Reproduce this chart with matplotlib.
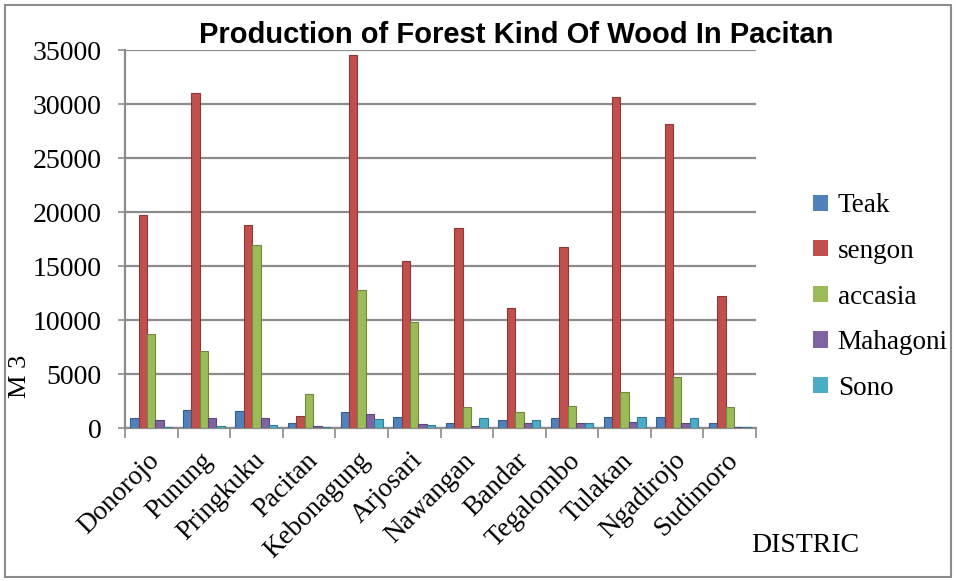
import matplotlib
matplotlib.use("Agg")
import matplotlib.pyplot as plt
import matplotlib.transforms as mtransforms
from matplotlib.patches import Rectangle
import numpy as np

districts = ["Donorojo", "Punung", "Pringkuku", "Pacitan", "Kebonagung", "Arjosari",
             "Nawangan", "Bandar", "Tegalombo", "Tulakan", "Ngadirojo", "Sudimoro"]
teak     = [950, 1700, 1550, 500, 1500, 1000, 500, 700, 900, 1000, 1000, 500]
sengon   = [19700, 31000, 18800, 1100, 34500, 15500, 18500, 11100, 16750, 30650, 28150, 12200]
accasia  = [8700, 7100, 16900, 3150, 12800, 9800, 1900, 1500, 2000, 3300, 4700, 1900]
mahagoni = [700, 900, 950, 200, 1300, 400, 200, 500, 450, 600, 500, 100]
sono     = [100, 200, 300, 50, 800, 300, 950, 750, 500, 1050, 950, 50]

series_names = ["Teak", "sengon", "accasia", "Mahagoni", "Sono"]
series_vals = [teak, sengon, accasia, mahagoni, sono]
colors = ["#4F81BD", "#C0504D", "#9BBB59", "#8064A2", "#4BACC6"]
edges = ["#385D8A", "#8C3836", "#71893F", "#5C4776", "#357D91"]
yticks = [0, 5000, 10000, 15000, 20000, 25000, 30000, 35000]

W, H = 956, 581
fig = plt.figure(figsize=(W / 100, H / 100), dpi=100)
fig.patch.set_facecolor("white")
fig.patches.append(Rectangle((5 / W, 4 / H), (W - 10) / W, (H - 9) / H, transform=fig.transFigure,
                             fill=False, edgecolor="#8c8c8c", linewidth=1.5))

ax = fig.add_axes([125 / W, 1 - 428 / H, (756 - 125) / W, (428 - 50) / H])
x = np.arange(len(districts))
bw = 0.16
for i, (name, vals) in enumerate(zip(series_names, series_vals)):
    ax.bar(x + (i - 2) * bw, vals, width=bw, color=colors[i], edgecolor=edges[i],
           linewidth=0.8, label=name, zorder=3)

ax.set_xlim(-0.5, len(districts) - 0.5)
ax.set_ylim(0, 35000)
ax.set_yticks(yticks)
ax.set_yticklabels([str(v) for v in yticks], fontfamily="Liberation Serif", fontsize=20)
ax.yaxis.grid(True, color="#8c8c8c", linewidth=1.6, zorder=0)
ax.set_axisbelow(True)
for s in ["top", "right"]:
    ax.spines[s].set_visible(False)
for s in ["left", "bottom"]:
    ax.spines[s].set_color("#8c8c8c")
    ax.spines[s].set_linewidth(1.6)
ax.tick_params(axis="y", length=5, color="#8c8c8c", width=1.2, pad=12)

ax.set_xticks(x)
ax.set_xticks(np.arange(-0.5, len(districts), 1), minor=True)
ax.tick_params(axis="x", which="major", length=0)
ax.tick_params(axis="x", which="minor", length=7, color="#8c8c8c", width=1.2)
offset = mtransforms.ScaledTranslation(-4 / 100, -15 / 100, fig.dpi_scale_trans)
labels = ax.set_xticklabels(districts, rotation=45, ha="right", va="top",
                            rotation_mode="anchor", fontfamily="Liberation Serif", fontsize=19.5)
for lab in labels:
    lab.set_transform(lab.get_transform() + offset)

fig.text(516 / W, 1 - 35 / H, "Production of Forest Kind Of Wood In Pacitan", ha="center", va="center",
         fontfamily="Liberation Sans", fontweight="bold", fontsize=21)
fig.text(20 / W, 1 - 376 / H, "M 3", rotation=90, ha="center", va="center",
         fontfamily="Liberation Serif", fontsize=19)
fig.text(805 / W, 1 - 545 / H, "DISTRIC", ha="center", va="center",
         fontfamily="Liberation Serif", fontsize=20)

leg = fig.legend(loc="center left", bbox_to_anchor=(789 / W, 1 - 297 / H), frameon=False,
                 prop={"family": "Liberation Serif", "size": 19.5}, handlelength=0.55, handleheight=0.55,
                 labelspacing=0.76, handletextpad=0.35)
for h in leg.legend_handles:
    h.set_edgecolor("none")

fig.savefig("out.png", dpi=100, facecolor="white")
